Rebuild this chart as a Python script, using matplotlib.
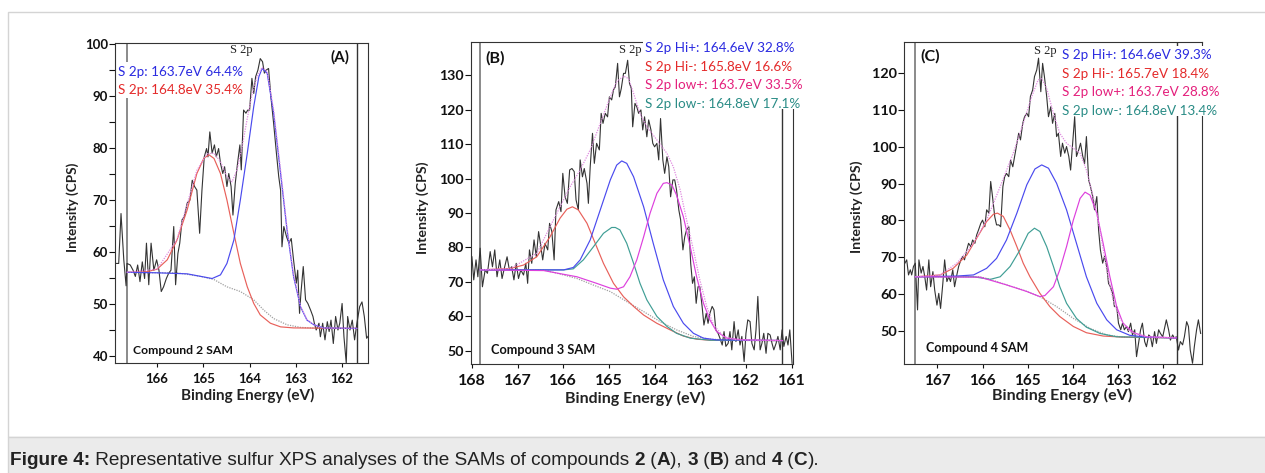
import matplotlib
matplotlib.use("Agg")
import matplotlib.pyplot as plt
from matplotlib.patches import Rectangle

# ---------------- Panel A data (compound 2) ----------------
a_raw_e = [166.88,166.83,166.78,166.72,166.67,166.65,166.58,166.52,166.47,166.42,
           166.37,166.32,166.27,166.23,166.18,166.13,166.07,166.01,165.96,165.91,
           165.86,165.80,165.75,165.70,165.64,165.60,165.55,165.51,165.46,165.41,
           165.35,165.29,165.24,165.19,165.14,165.08,165.03,164.98,164.93,164.90,
           164.86,164.81,164.76,164.72,164.67,164.63,164.58,164.54,164.49,164.45,
           164.40,164.36,164.31,164.26,164.21,164.18,164.13,164.08,164.04,164.00,
           163.95,163.91,163.87,163.82,163.77,163.72,163.68,163.64,163.59,163.54,
           163.48,163.42,163.37,163.33,163.30,163.26,163.20,163.15,163.10,163.05,
           162.99,162.96,162.92,162.89,162.84,162.79,162.74,162.68,162.63,162.60,
           162.56,162.50,162.47,162.42,162.37,162.32,162.28,162.24,162.19,162.14,
           162.09,162.05,162.00,161.96,161.91,161.88,161.83,161.78,161.73,161.68,
           161.62,161.57,161.52,161.47,161.42]
a_raw_i = [57.8,57.8,67.4,58.5,53.5,57.8,57.5,56.5,55.3,57.5,
           54.3,58.1,54.9,61.7,53.7,61.7,56.5,58.5,56.5,52.4,
           53.3,54.9,55.9,56.5,64.9,53.7,59.7,61.7,66.2,66.8,
           69.4,70.0,73.8,72.6,71.9,63.6,71.9,78.3,79.9,78.3,
           83.1,79.0,80.6,78.3,79.9,77.1,75.1,76.4,72.6,75.1,
           72.6,67.1,73.2,77.1,80.6,75.8,87.3,86.7,87.3,87.3,
           93.4,90.5,93.7,95.0,97.2,96.6,94.4,95.0,95.3,89.9,
           84.7,79.0,74.5,71.9,61.0,64.9,62.9,61.7,62.6,58.5,
           54.0,56.5,48.2,52.1,57.2,50.8,50.1,48.8,47.6,46.3,
           45.0,46.3,43.7,46.3,43.1,46.6,44.7,46.9,42.4,47.6,
           45.0,46.3,50.1,43.7,38.6,47.6,45.0,46.9,43.1,46.3,
           49.5,50.4,47.6,43.4,44.0]
a_bg_e = [166.65,166.00,165.57,165.06,164.77,164.49,164.20,163.91,163.69,163.48,163.19,162.90,162.47,161.68]
a_bg_i = [56.1,56.0,56.0,55.3,54.7,53.3,52.4,50.8,48.8,47.2,46.0,45.5,45.3,45.3]
a_p1_e = [166.65,166.00,165.35,164.81,164.63,164.49,164.34,164.20,164.05,163.91,163.80,
          163.73,163.62,163.48,163.33,163.19,163.05,162.90,162.76,162.61,162.40,161.68]
a_p1_i = [56.1,56.0,55.8,54.9,55.6,57.8,62.3,70.0,79.0,88.0,93.7,
          95.3,94.4,86.7,75.1,64.2,55.3,49.5,46.9,46.0,45.4,45.3]
a_p2_e = [166.65,166.22,166.00,165.78,165.57,165.35,165.14,164.99,164.88,164.77,164.63,
          164.49,164.34,164.20,164.05,163.91,163.77,163.55,163.33,163.05,161.68]
a_p2_i = [56.1,56.2,56.7,58.5,62.3,68.1,75.1,78.0,78.7,78.0,75.1,
          70.0,63.6,57.8,53.3,50.1,47.9,46.3,45.6,45.4,45.3]
a_env_e = [166.65,166.00,165.57,165.14,164.92,164.77,164.63,164.49,164.38,164.27,164.16,164.05,
           163.95,163.84,163.73,163.62,163.48,163.33,163.19,163.05,162.90,162.76,162.61,162.40,161.68]
a_env_i = [56.1,56.7,62.4,75.7,78.9,79.0,77.4,74.5,73.5,75.8,80.3,85.7,
           90.2,93.7,95.5,94.7,87.3,75.8,64.6,55.6,49.6,47.0,46.0,45.4,45.3]
a_xticks = [166, 165, 164, 163, 162]
a_yticks = [40, 50, 60, 70, 80, 90, 100]
a_yminor = [45, 55, 65, 75, 85, 95]
a_labels = ["S 2p: 163.7eV 64.4%", "S 2p: 164.8eV 35.4%"]

# ---------------- Panel B data (compound 3) ----------------
b_raw_e = [168.00,167.96,167.91,167.87,167.82,167.77,167.71,167.66,167.60,167.55,
           167.50,167.45,167.39,167.34,167.29,167.23,167.18,167.13,167.08,167.03,
           166.98,166.93,166.87,166.82,166.78,166.74,166.69,166.64,166.59,166.54,
           166.49,166.45,166.40,166.34,166.30,166.25,166.20,166.16,166.10,166.05,
           166.01,165.96,165.91,165.86,165.81,165.76,165.72,165.67,165.63,165.58,
           165.54,165.48,165.45,165.41,165.36,165.32,165.27,165.21,165.17,165.13,
           165.08,165.03,164.99,164.94,164.90,164.86,164.81,164.77,164.73,164.68,
           164.64,164.59,164.55,164.51,164.48,164.43,164.39,164.35,164.30,164.26,
           164.22,164.17,164.13,164.08,164.04,164.00,163.95,163.91,163.87,163.82,
           163.78,163.73,163.69,163.65,163.60,163.56,163.52,163.47,163.43,163.38,
           163.34,163.30,163.25,163.21,163.17,163.13,163.09,163.05,163.01,162.96,
           162.92,162.87,162.83,162.79,162.74,162.70,162.66,162.61,162.57,162.52,
           162.48,162.44,162.39,162.35,162.31,162.26,162.22,162.17,162.13,162.09,
           162.04,162.00,161.96,161.91,161.87,161.82,161.78,161.74,161.69,161.65,
           161.61,161.56,161.52,161.47,161.43,161.39,161.34,161.30,161.25,161.21,
           161.17,161.12,161.08,161.04,160.99]
b_raw_i = [77.3,70.6,76.4,71.5,79.8,68.6,73.5,72.5,78.8,74.4,
           79.3,71.5,76.4,71.0,74.0,77.3,73.5,74.4,70.6,75.4,
           71.0,73.5,72.0,75.4,69.6,79.3,75.4,82.2,77.3,84.6,
           80.2,76.4,81.2,79.3,87.0,84.6,76.4,90.9,93.3,90.4,
           101.5,94.7,92.8,102.5,102.9,102.0,93.8,90.9,105.4,100.5,
           102.9,98.6,92.8,103.4,113.1,104.4,110.2,108.3,118.9,116.0,
           118.9,117.9,123.7,122.8,125.7,126.6,133.4,123.7,126.1,130.5,
           130.5,134.3,127.6,126.1,115.0,121.8,120.8,118.9,119.9,114.1,
           117.9,112.1,117.0,114.1,110.2,109.2,110.2,105.4,117.4,105.4,
           101.5,106.3,103.4,94.7,99.6,99.6,96.7,90.9,88.0,79.3,
           83.1,85.1,86.0,75.4,69.6,71.5,63.8,68.6,68.6,62.9,
           57.5,60.9,58.0,60.9,62.9,61.9,56.1,55.1,53.7,51.7,
           55.6,51.3,52.2,55.6,50.3,58.5,52.7,56.1,51.7,54.2,
           46.9,55.1,59.0,58.5,52.2,50.3,56.1,65.8,50.3,52.2,
           55.1,49.3,55.1,54.6,52.2,50.3,52.2,54.2,50.3,56.1,
           51.3,54.2,51.7,56.1,46.4]
b_bg_e = [167.82,166.43,166.07,165.70,165.34,164.97,164.61,164.24,163.88,163.52,163.15,162.79,162.06,161.20]
b_bg_i = [73.5,73.5,72.3,71.0,69.1,67.2,64.3,61.4,58.5,56.1,54.2,53.4,53.0,53.0]
b_hm_e = [167.82,167.16,166.87,166.58,166.29,166.07,165.92,165.80,165.67,165.48,165.30,
          165.12,164.90,164.68,164.46,164.24,163.95,163.66,163.37,163.08,162.79,161.20]
b_hm_i = [73.5,73.9,74.9,77.3,83.1,88.5,91.1,91.8,90.9,87.0,81.2,
          75.4,69.6,65.7,62.9,60.4,58.0,56.1,54.3,53.4,53.1,53.0]
b_hp_e = [167.82,166.43,165.99,165.78,165.63,165.41,165.19,164.97,164.83,164.72,164.61,
          164.46,164.24,164.03,163.81,163.59,163.37,163.15,162.93,162.64,161.20]
b_hp_i = [73.5,73.5,73.5,74.2,76.4,82.2,90.9,99.6,103.9,105.1,104.4,
          100.5,91.8,81.2,70.6,62.9,58.0,55.1,53.7,53.2,53.0]
b_lm_e = [167.82,166.43,165.99,165.78,165.56,165.34,165.12,164.94,164.86,164.76,
          164.61,164.46,164.32,164.17,163.95,163.73,163.52,163.22,162.79,161.20]
b_lm_i = [73.5,73.5,73.5,73.8,76.4,80.2,84.1,85.8,85.8,85.1,
          81.2,75.4,69.6,64.8,60.0,57.1,55.1,53.7,53.1,53.0]
b_lp_e = [167.82,166.43,165.70,165.27,164.97,164.83,164.68,164.54,164.39,164.24,164.10,163.95,
          163.81,163.73,163.62,163.52,163.37,163.22,163.08,162.93,162.79,162.64,162.42,162.06,161.20]
b_lp_i = [73.5,73.3,71.5,69.6,68.2,67.9,68.6,71.5,76.4,83.1,89.9,95.7,
          98.6,98.8,98.1,95.2,88.9,80.2,71.5,63.8,59.0,55.6,53.7,53.2,53.0]
b_env_e = [167.82,167.16,166.58,166.29,166.07,165.85,165.63,165.41,165.19,164.97,164.83,164.68,164.57,164.46,
           164.32,164.17,163.95,163.73,163.59,163.44,163.30,163.15,163.01,162.86,162.71,162.49,162.20,161.20]
b_env_i = [73.5,73.9,78.3,86.0,91.8,97.6,102.5,108.3,116.0,123.7,128.1,129.7,129.0,124.7,
           118.9,115.0,111.2,107.3,103.4,96.7,88.0,79.3,70.6,62.9,57.5,54.2,53.2,53.0]
b_xticks = [168, 167, 166, 165, 164, 163, 162, 161]
b_yticks = [50, 60, 70, 80, 90, 100, 110, 120, 130]
b_labels = ["S 2p Hi+: 164.6eV 32.8%", "S 2p Hi-: 165.8eV 16.6%",
            "S 2p low+: 163.7eV 33.5%", "S 2p low-: 164.8eV 17.1%"]

# ---------------- Panel C data (compound 4) ----------------
c_raw_e = [167.72,167.68,167.64,167.60,167.57,167.53,167.49,167.44,167.41,167.36,
           167.32,167.28,167.24,167.19,167.15,167.10,167.06,167.01,166.97,166.93,
           166.88,166.84,166.79,166.75,166.71,166.66,166.62,166.57,166.53,166.48,
           166.44,166.40,166.35,166.31,166.26,166.22,166.17,166.13,166.09,166.04,
           166.00,165.95,165.91,165.86,165.82,165.78,165.73,165.69,165.64,165.60,
           165.55,165.51,165.47,165.42,165.38,165.33,165.29,165.24,165.20,165.16,
           165.11,165.07,165.02,164.98,164.94,164.89,164.85,164.80,164.76,164.71,
           164.67,164.63,164.58,164.54,164.49,164.45,164.40,164.36,164.32,164.27,
           164.23,164.18,164.14,164.09,164.05,164.01,163.96,163.92,163.87,163.83,
           163.78,163.74,163.70,163.65,163.61,163.56,163.52,163.47,163.43,163.39,
           163.34,163.30,163.25,163.21,163.17,163.12,163.08,163.03,162.99,162.94,
           162.90,162.86,162.81,162.77,162.72,162.68,162.63,162.59,162.55,162.50,
           162.46,162.41,162.37,162.32,162.28,162.24,162.19,162.15,162.10,162.06,
           162.01,161.97,161.93,161.88,161.84,161.79,161.75,161.71,161.66,161.62,
           161.57,161.53,161.48,161.44,161.40,161.35,161.31,161.26,161.22,161.17]
c_raw_i = [68.4,69.3,65.2,66.6,65.2,67.5,68.4,55.7,69.3,65.7,
           67.5,64.7,61.1,69.3,62.0,66.1,61.1,57.0,60.2,56.1,
           62.9,69.3,63.4,64.7,63.4,66.6,62.0,65.2,67.5,69.3,
           70.2,69.3,72.0,73.8,72.9,74.7,73.8,76.1,77.4,79.2,
           80.1,78.3,82.9,82.0,90.6,86.5,81.0,78.8,78.8,78.3,
           89.2,91.9,92.8,91.9,96.4,94.6,97.4,101.0,103.7,101.9,
           106.4,108.2,109.1,108.2,113.7,115.5,119.1,120.9,124.1,115.0,
           122.7,119.1,113.7,108.2,110.9,106.4,109.1,102.8,103.7,97.4,
           101.0,98.3,100.1,97.4,93.7,100.1,108.2,97.4,99.2,101.0,
           97.4,95.5,102.8,91.0,89.2,86.5,82.9,86.5,77.4,72.0,
           68.4,70.2,67.5,62.9,62.0,60.2,56.6,56.6,52.1,50.3,
           52.1,50.3,51.2,49.8,52.1,48.9,50.3,43.0,46.2,50.3,
           52.1,47.1,45.7,48.9,48.4,45.7,49.8,46.6,50.3,49.3,
           48.4,50.7,53.0,50.3,47.5,48.9,48.0,48.4,44.8,47.1,
           46.2,48.4,52.5,51.2,44.8,41.2,45.7,50.3,53.0,49.3]
c_bg_e = [167.49,166.06,165.83,165.47,165.10,164.73,164.36,163.99,163.62,163.25,162.89,161.71]
c_bg_i = [64.7,64.7,64.0,62.5,61.1,59.3,56.6,53.4,50.7,48.9,48.3,48.1]
c_hm_e = [167.49,166.94,166.65,166.35,166.13,165.91,165.76,165.67,165.54,165.39,165.24,
          165.10,164.95,164.73,164.51,164.29,163.99,163.70,163.33,162.89,161.71]
c_hm_i = [64.7,65.2,67.0,70.6,75.2,79.7,81.7,82.0,81.1,77.4,72.9,
          68.4,64.7,60.2,56.6,53.9,51.2,49.5,48.6,48.3,48.1]
c_hp_e = [167.49,166.57,166.20,165.91,165.69,165.47,165.24,165.02,164.84,164.69,164.54,
          164.36,164.14,163.92,163.70,163.47,163.25,163.03,162.74,162.37,161.71]
c_hp_i = [64.7,64.9,65.2,67.0,69.7,74.7,82.0,89.7,94.0,95.1,94.2,
          90.1,82.9,73.8,64.7,57.5,53.0,50.3,48.8,48.3,48.1]
c_lm_e = [167.49,166.20,165.83,165.61,165.39,165.17,164.99,164.85,164.73,164.58,
          164.43,164.29,164.14,163.92,163.70,163.40,163.03,161.71]
c_lm_i = [64.7,64.7,64.0,64.7,67.5,72.0,76.5,77.9,77.0,72.9,
          67.5,62.0,57.5,53.4,51.0,49.3,48.4,48.1]
c_lp_e = [167.49,166.06,165.47,165.02,164.73,164.62,164.43,164.29,164.14,163.99,163.84,
          163.73,163.62,163.47,163.33,163.18,163.03,162.89,162.66,162.37,161.71]
c_lp_i = [64.7,64.6,62.5,60.7,59.3,59.6,62.0,66.6,72.9,80.1,86.0,
          87.7,86.9,82.0,73.8,64.7,56.6,52.1,49.5,48.4,48.1]
c_env_e = [167.49,166.94,166.57,166.20,165.91,165.61,165.32,165.10,164.91,164.77,164.69,164.58,164.43,
           164.29,164.14,163.99,163.84,163.70,163.55,163.40,163.25,163.11,162.96,162.74,162.37,161.71]
c_env_i = [64.7,65.2,68.4,73.8,80.1,89.2,98.3,106.4,113.7,118.2,118.6,115.9,109.1,
           103.7,101.0,99.6,98.3,93.7,86.5,77.4,66.6,58.4,53.4,49.8,48.4,48.1]
c_xticks = [167, 166, 165, 164, 163, 162]
c_yticks = [50, 60, 70, 80, 90, 100, 110, 120]
c_labels = ["S 2p Hi+: 164.6eV 39.3%", "S 2p Hi-: 165.7eV 18.4%",
            "S 2p low+: 163.7eV 28.8%", "S 2p low-: 164.8eV 13.4%"]

# ---------------- styling ----------------
W, H = 1265, 473
FONT = ["Lato", "DejaVu Sans"]
SERIF = ["Liberation Serif", "DejaVu Serif"]
C_BLUE, C_RED, C_MAG, C_TEAL = "#4a4aee", "#e8605a", "#dd3fdd", "#3f9e95"
T_BLUE, T_RED, T_PINK, T_TEAL = "#2a2ae0", "#e42a2a", "#e4207c", "#2a8c86"
C_ENV, C_BG, C_RAW = "#e08ae0", "#a0a0a0", "#333333"
TXT = "#111111"

fig = plt.figure(figsize=(W / 100, H / 100), dpi=100)
fig.patch.set_facecolor("white")


def fx(px):
    return px / W


def fy(py):
    return 1 - py / H


def fig_rect(l, t, r, b, **kw):
    """Rectangle given in figure pixels (left, top, right, bottom)."""
    fig.add_artist(Rectangle((fx(l), fy(b)), (r - l) / W, (b - t) / H,
                             transform=fig.transFigure, **kw))


# outer frame and caption band
fig_rect(8, 12, 1275, 437, fill=False, edgecolor="#d4d4d4", lw=1.0, zorder=0.5)
fig_rect(8, 437, 1275, 480, facecolor="#ebebeb", edgecolor="#d4d4d4", lw=1.0, zorder=0.5)


def make_axes(box, xlim, ylim, xticks, yticks, xfs, yfs, minor=None):
    l, r, t, b = box
    ax = fig.add_axes([fx(l), fy(b), (r - l) / W, (b - t) / H])
    ax.set_zorder(0)
    ax.set_xlim(*xlim)
    ax.set_ylim(*ylim)
    ax.set_xticks(xticks)
    ax.set_xticklabels([str(v) for v in xticks], fontweight="bold", fontsize=xfs, family=FONT)
    ax.set_yticks(yticks)
    ax.set_yticklabels([str(v) for v in yticks], fontweight="bold", fontsize=yfs, family=FONT)
    if minor is not None:
        ax.set_yticks(minor, minor=True)
    ax.tick_params(axis="x", direction="out", length=3, width=0.8, pad=4, colors=TXT)
    ax.tick_params(axis="y", which="both", direction="out", length=4, width=0.8, pad=1, colors=TXT)
    for s in ax.spines.values():
        s.set_color("#333333")
        s.set_linewidth(0.8)
    return ax


def draw_fit(ax, raw_e, raw_i, bg, comps, env):
    ax.plot(raw_e, raw_i, color=C_RAW, lw=0.8, zorder=3)
    ax.plot(bg[0], bg[1], color=C_BG, lw=0.9, ls=(0, (1, 1)), zorder=2)
    for e, i, c in comps:
        ax.plot(e, i, color=c, lw=0.85, zorder=4)
    ax.plot(env[0], env[1], color=C_ENV, lw=0.9, ls=(0, (1, 1)), zorder=5)


def ftext(px, py, s, **kw):
    kw.setdefault("family", FONT)
    kw.setdefault("zorder", 5)
    return fig.text(fx(px), fy(py), s, **kw)


WHITE = dict(facecolor="white", edgecolor="none", zorder=2)

# ---------------- Panel A ----------------
axA = make_axes((115, 368, 43, 363), (166.91, 161.44), (38.65, 100.2), a_xticks, a_yticks,
                9.5, 9.5, minor=a_yminor)
axA.axvline(166.66, color="#8a8a8a", lw=1.4, zorder=1)
axA.axvline(161.68, color="#333333", lw=1.0, zorder=1)
draw_fit(axA, a_raw_e, a_raw_i, (a_bg_e, a_bg_i),
         [(a_p2_e, a_p2_i, C_RED), (a_p1_e, a_p1_i, C_BLUE)], (a_env_e, a_env_i))
fig_rect(117, 62, 246, 98, **WHITE)
ftext(118, 72, a_labels[0], color=T_BLUE, fontsize=9.7, va="center")
ftext(118, 90, a_labels[1], color=T_RED, fontsize=9.7, va="center")
ftext(241, 50, "S 2p", family=SERIF, fontsize=9, color="#222222", ha="center", va="center")
ftext(340, 57, "(A)", fontweight="bold", fontsize=11, ha="center", va="center", color=TXT)
ftext(133, 350, "Compound 2 SAM", fontweight="bold", fontsize=8.8, va="center", color=TXT)
ftext(248, 395, "Binding Energy (eV)", fontweight="bold", fontsize=11, ha="center", va="center",
      color="#222222")
ftext(73, 207, "Intensity (CPS)", fontweight="bold", fontsize=9.8, ha="center", va="center",
      rotation=90, color="#222222")

# ---------------- Panel B ----------------
axB = make_axes((471, 793, 42, 364), (168.02, 160.97), (46.2, 139.6), b_xticks, b_yticks,
                11.5, 10.2)
axB.axvline(167.82, color="#8a8a8a", lw=1.4, zorder=1)
axB.axvline(161.20, color="#333333", lw=1.0, zorder=1)
draw_fit(axB, b_raw_e, b_raw_i, (b_bg_e, b_bg_i),
         [(b_hm_e, b_hm_i, C_RED), (b_lm_e, b_lm_i, C_TEAL), (b_hp_e, b_hp_i, C_BLUE),
          (b_lp_e, b_lp_i, C_MAG)], (b_env_e, b_env_i))
fig_rect(643, 36, 812, 109, **WHITE)
for k, (lab, col) in enumerate(zip(b_labels, [T_BLUE, T_RED, T_PINK, T_TEAL])):
    ftext(645, 48 + 18.7 * k, lab, color=col, fontsize=9.7, va="center")
ftext(630, 50, "S 2p", family=SERIF, fontsize=9, color="#222222", ha="center", va="center")
ftext(495, 58, "(B)", fontweight="bold", fontsize=11.5, ha="center", va="center", color=TXT)
ftext(491, 350, "Compound 3 SAM", fontweight="bold", fontsize=9.2, va="center", color=TXT)
ftext(635, 398, "Binding Energy (eV)", fontweight="bold", fontsize=11.5, ha="center", va="center",
      color="#222222")
ftext(423, 208, "Intensity (CPS)", fontweight="bold", fontsize=10.2, ha="center", va="center",
      rotation=90, color="#222222")

# ---------------- Panel C ----------------
axC = make_axes((904, 1202, 42, 364), (167.74, 161.14), (41.0, 128.5), c_xticks, c_yticks,
                11, 10.4)
axC.axvline(167.49, color="#8a8a8a", lw=1.4, zorder=1)
axC.axvline(161.70, color="#333333", lw=1.0, zorder=1)
draw_fit(axC, c_raw_e, c_raw_i, (c_bg_e, c_bg_i),
         [(c_hm_e, c_hm_i, C_RED), (c_lm_e, c_lm_i, C_TEAL), (c_hp_e, c_hp_i, C_BLUE),
          (c_lp_e, c_lp_i, C_MAG)], (c_env_e, c_env_i))
fig_rect(1059, 46, 1216, 116, **WHITE)
for k, (lab, col) in enumerate(zip(c_labels, [T_BLUE, T_RED, T_PINK, T_TEAL])):
    ftext(1062, 55 + 18.7 * k, lab, color=col, fontsize=9.7, va="center")
ftext(1045, 51, "S 2p", family=SERIF, fontsize=9, color="#222222", ha="center", va="center")
ftext(930, 56, "(C)", fontweight="bold", fontsize=11.5, ha="center", va="center", color=TXT)
ftext(926, 348, "Compound 4 SAM", fontweight="bold", fontsize=9, va="center", color=TXT)
ftext(1062, 395, "Binding Energy (eV)", fontweight="bold", fontsize=11.5, ha="center", va="center",
      color="#222222")
ftext(857, 207, "Intensity (CPS)", fontweight="bold", fontsize=10.2, ha="center", va="center",
      rotation=90, color="#222222")

# ---------------- caption ----------------
caption = [("Figure 4:", True), (" Representative sulfur XPS analyses of the SAMs of compounds ", False),
           ("2", True), (" (", False), ("A", True), ("), ", False), ("3", True), (" (", False),
           ("B", True), (") and ", False), ("4", True), (" (", False), ("C", True), (").", False)]
renderer = fig.canvas.get_renderer()
xpos = 10.0
for txt, bold in caption:
    t = fig.text(fx(xpos), fy(460), txt, fontsize=13.7, fontweight="bold" if bold else "normal",
                 family=["Liberation Sans", "DejaVu Sans"], va="center", color="#222222", zorder=5)
    xpos += t.get_window_extent(renderer).width

fig.savefig("out.png", dpi=100)
